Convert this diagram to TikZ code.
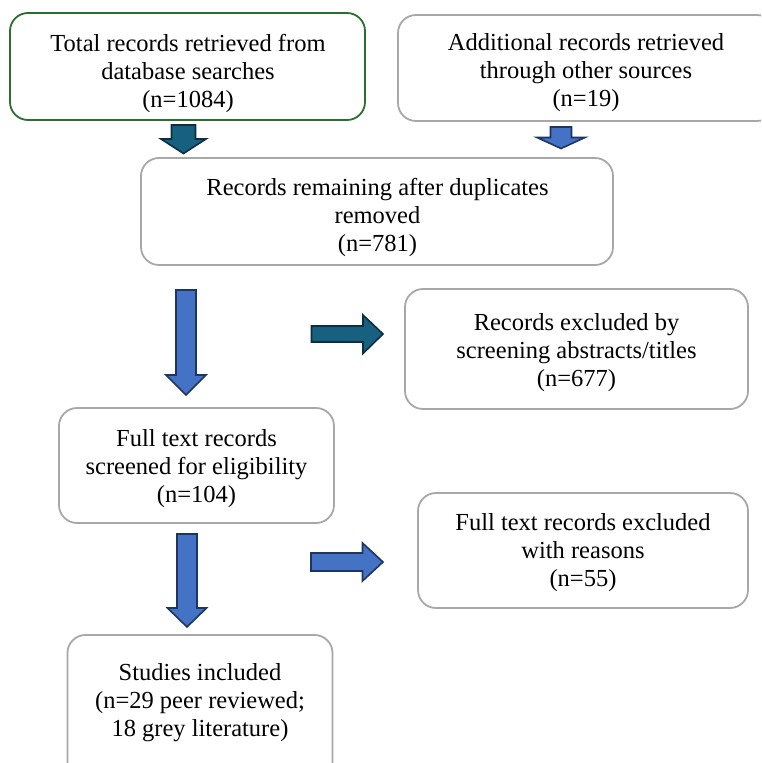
\documentclass[tikz,border=0pt]{standalone}
\usepackage{fontspec}
\setmainfont{Liberation Serif}
\definecolor{boxgreen}{HTML}{2C6E30}
\definecolor{boxgray}{HTML}{A8A8A8}
\definecolor{tealfill}{HTML}{17607F}
\definecolor{tealline}{HTML}{0C2F40}
\definecolor{bluefill}{HTML}{4472C4}
\definecolor{blueline}{HTML}{1F3560}
\begin{document}
\begin{tikzpicture}[x=1pt,y=-1pt,
  box/.style={draw=boxgray, line width=1.8pt, rounded corners=18pt, fill=white, inner sep=0pt},
  greenbox/.style={box, draw=boxgreen},
  txt/.style={align=center, inner sep=0pt, font=\fontsize{24.5pt}{28pt}\selectfont},
  tealarrow/.style={fill=tealfill, draw=tealline, line width=1.6pt, line join=miter},
  bluearrow/.style={fill=bluefill, draw=blueline, line width=1.6pt, line join=miter}]
\useasboundingbox (0,0) rectangle (761,763);
\clip (0,0) rectangle (761,763);

% boxes
\node[greenbox, minimum width=355pt, minimum height=107pt] (b1) at (187.5,66.5) {};
\node[box, minimum width=377pt, minimum height=106pt] (b2) at (586.5,68) {};
\node[box, minimum width=472pt, minimum height=107pt] (b3) at (377,211.5) {};
\node[box, minimum width=343pt, minimum height=120pt] (b4) at (576.5,349) {};
\node[box, minimum width=275pt, minimum height=115pt] (b5) at (196.5,465.5) {};
\node[box, minimum width=330pt, minimum height=115pt] (b6) at (583,550.5) {};
\node[box, minimum width=265pt, minimum height=150pt] (b7) at (200,710) {};

% texts
\node[txt] (t1) at (188,73) {Total records retrieved from\\database searches\\(n=1084)};
\node[txt] (t2) at (586,73) {Additional records retrieved\\through other sources\\(n=19)};
\node[txt] (t3) at (377.5,217) {Records remaining after duplicates\\removed\\(n=781)};
\node[txt] (t4) at (576.5,353) {Records excluded by\\screening abstracts/titles\\(n=677)};
\node[txt] (t5) at (196.5,469) {Full text records\\screened for eligibility\\(n=104)};
\node[txt] (t6) at (583,553) {Full text records excluded\\with reasons\\(n=55)};
\node[txt] (t7) at (200,703) {Studies included\\(n=29 peer reviewed;\\18 grey literature)};

% block arrows
\filldraw[tealarrow] (171.5,125) -- (195.5,125) -- (195.5,139) -- (206,139) -- (183.5,153.5) -- (161,139) -- (171.5,139) -- cycle;
\filldraw[bluearrow] (550.5,127) -- (571.5,127) -- (571.5,137.5) -- (585,137.5) -- (561,148.5) -- (537,137.5) -- (550.5,137.5) -- cycle;
\filldraw[bluearrow] (176,290) -- (196,290) -- (196,375) -- (206,375) -- (186,395) -- (166,375) -- (176,375) -- cycle;
\filldraw[tealarrow] (311.5,326) -- (363,326) -- (363,315) -- (383,334) -- (363,353.5) -- (363,342) -- (311.5,342) -- cycle;
\filldraw[bluearrow] (177,534) -- (197,534) -- (197,608) -- (206.5,608) -- (187,627) -- (167.5,608) -- (177,608) -- cycle;
\filldraw[bluearrow] (311,553) -- (362.5,553) -- (362.5,543) -- (383,562) -- (362.5,581) -- (362.5,571) -- (311,571) -- cycle;
\end{tikzpicture}
\end{document}
